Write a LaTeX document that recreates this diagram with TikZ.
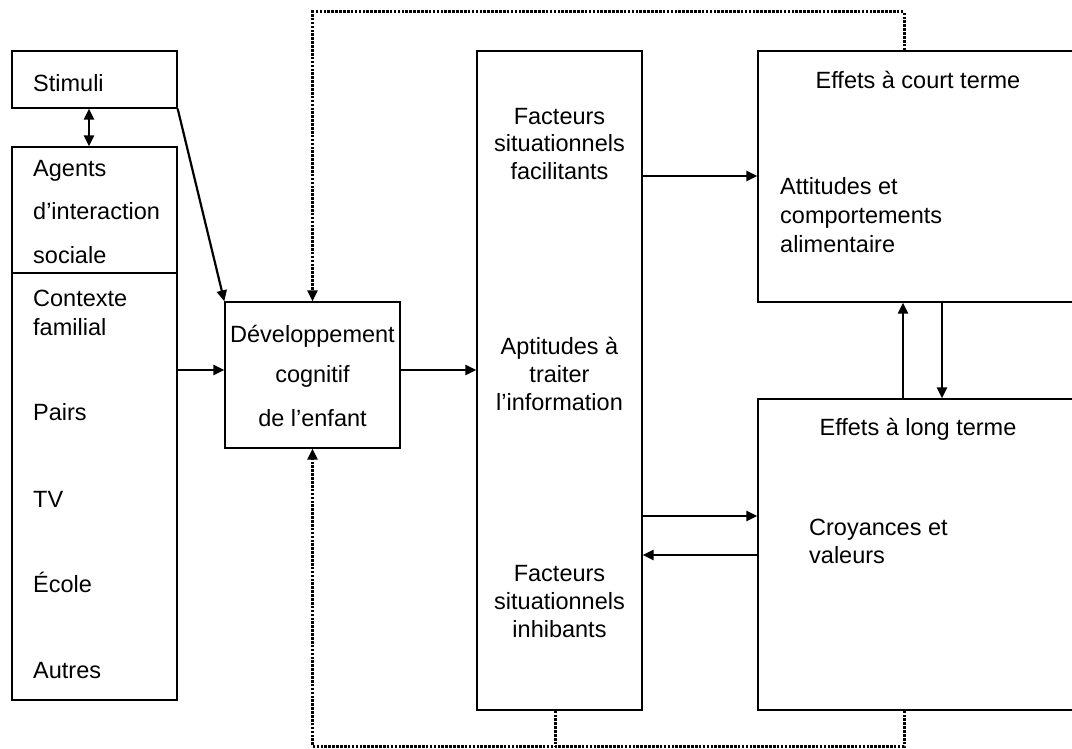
\documentclass[tikz,border=0pt]{standalone}
\usepackage{fontspec}
\setmainfont{Liberation Sans}
\usetikzlibrary{arrows.meta}

\begin{document}
\begin{tikzpicture}[x=1pt, y=-1pt,
    blk/.style={draw, line width=1.3pt, inner sep=0pt},
    txt/.style={inner sep=0pt, font=\fontsize{23.5}{27.5}\selectfont},
    arr/.style={line width=2.2pt, -{Triangle[length=11pt,width=10pt]}},
    fb/.style={line width=3pt, dash pattern=on 2.6pt off 1.3pt}]
    \useasboundingbox (0,0) rectangle (1072,749);

    % boxes
    \node[blk, minimum width=165pt, minimum height=57pt] (stimuli) at (94.5,79.5) {};
    \node[blk, minimum width=165pt, minimum height=126pt] (agents) at (94.5,210) {};
    \node[blk, minimum width=165pt, minimum height=427pt] (contexte) at (94.5,486.5) {};
    \node[blk, minimum width=175pt, minimum height=146pt] (dev) at (312.5,375) {};
    \node[blk, minimum width=165pt, minimum height=659pt] (facteurs) at (559.5,380.5) {};
    \node[blk, minimum width=330pt, minimum height=251pt] (court) at (923,176.5) {};
    \node[blk, minimum width=330pt, minimum height=311pt] (long) at (923,554.5) {};

    % texts
    \node[txt, anchor=base west] (tstim) at (33,92) {Stimuli};
    \foreach \t/\y [count=\i] in {Agents/177, d’interaction/220, sociale/263}
        \node[txt, anchor=base west] (tag\i) at (33,\y) {\t};
    \foreach \t/\y [count=\i] in {Contexte/306, familial/335, Pairs/420, TV/507, École/592, Autres/678}
        \node[txt, anchor=base west] (tctx\i) at (33,\y) {\t};
    \foreach \t/\y [count=\i] in {Développement/342, cognitif/382, de l’enfant/426}
        \node[txt, anchor=base] (tdev\i) at (312.5,\y) {\t};
    \foreach \t/\y [count=\i] in {Facteurs/125, situationnels/152, facilitants/180,
        Aptitudes à/354, traiter/382, l’information/410,
        Facteurs/581, situationnels/609, inhibants/637}
        \node[txt, anchor=base] (tfac\i) at (559.5,\y) {\t};
    \node[txt, anchor=base] (tcourt) at (918,89) {Effets à court terme};
    \foreach \t/\y [count=\i] in {Attitudes et/195, comportements/224, alimentaire/252}
        \node[txt, anchor=base west] (tatt\i) at (780,\y) {\t};
    \node[txt, anchor=base] (tlong) at (918,435) {Effets à long terme};
    \foreach \t/\y [count=\i] in {Croyances et/535, valeurs/563}
        \node[txt, anchor=base west] (tcro\i) at (809,\y) {\t};

    % connectors
    \draw[line width=2.2pt, {Triangle[length=11pt,width=10pt]}-{Triangle[length=11pt,width=10pt]}]
        (stimuli.south -| 89,0) -- (agents.north -| 89,0);
    \draw[arr] (stimuli.south east) -- (dev.north west);
    \draw[arr] ([yshift=5pt]contexte.east |- dev.west) -- ([yshift=5pt]dev.west);
    \draw[arr] ([yshift=5pt]dev.east) -- ([yshift=5pt]facteurs.west |- dev.east);
    \draw[arr] (facteurs.east |- 0,176) -- (court.west |- 0,176);
    \draw[arr] (facteurs.east |- 0,516) -- (long.west |- 0,516);
    \draw[arr] (long.west |- 0,555) -- (facteurs.east |- 0,555);
    \draw[arr] (long.north -| 903,0) -- (court.south -| 903,0);
    \draw[arr] (court.south -| 942,0) -- (long.north -| 942,0);

    % feedback loops
    \draw[fb, -{Triangle[length=11pt,width=10pt]}] (court.north -| 904,0) -- (904,12) -| (dev.north);
    \draw[fb, -{Triangle[length=11pt,width=10pt]}] (long.south -| 904,0) -- (904,746) -| (dev.south);
    \draw[fb] (facteurs.south -| 555,0) -- (555,746);
\end{tikzpicture}
\end{document}
